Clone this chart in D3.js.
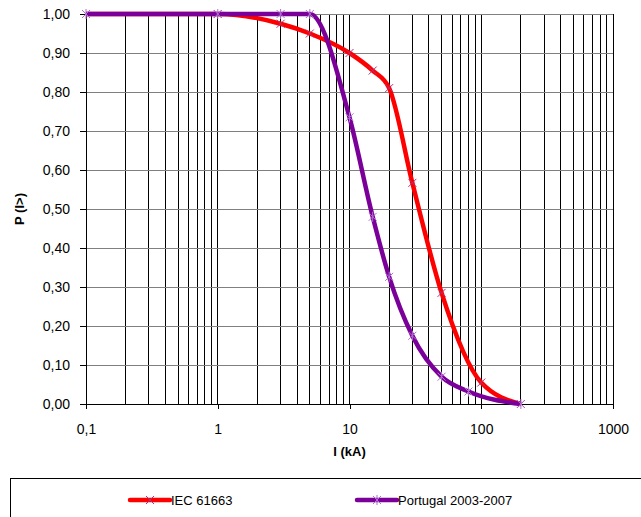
<!DOCTYPE html>
<html>
<head>
<meta charset="utf-8">
<script src="https://cdn.jsdelivr.net/npm/d3@7"></script>
<style>
    body { margin: 0; background: #fff; }
    svg { font-family: 'Liberation Sans', Arial, sans-serif; }
</style>
</head>
<body>
<div id="chart"></div>
<script>
// current (kA) and probability values
let iecCurrent = [0.1, 1, 3, 5, 10, 15, 20, 30, 50, 100, 200];
let iecProb = [1.0, 1.0, 0.975, 0.95, 0.90, 0.855, 0.81, 0.567, 0.285, 0.055, 0.0];

let ptCurrent = [0.1, 1, 3, 5, 10, 15, 20, 30, 50, 80, 200];
let ptProb = [1.0, 1.0, 1.0, 1.0, 0.735, 0.48, 0.326, 0.175, 0.07, 0.032, 0.0];

let xTickValues = [0.1, 1, 10, 100, 1000];
let xTickLabels = ['0,1', '1', '10', '100', '1000'];
let yTickValues = d3.range(0, 11).map(d => d / 10);

let seriesNames = ['IEC 61663', 'Portugal 2003-2007'];

let width = 641,
    height = 517;
let margin = {left: 86, right: 28, top: 14, bottom: 113};

let svg = d3.select('#chart')
    .append('svg')
    .attr('width', width)
    .attr('height', height);

let x = d3.scaleLog()
    .domain([0.1, 1000])
    .range([margin.left, width - margin.right]);

let y = d3.scaleLinear()
    .domain([0, 1])
    .range([height - margin.bottom, margin.top]);

// vertical grid: every minor log tick
let minorTicks = [];
[0.1, 1, 10, 100].forEach(function(dec) {
    for (let k = 1; k <= 9; k++) {
        minorTicks.push(dec * k);
    }
});
minorTicks.push(1000);

svg.append('g')
    .selectAll('line')
    .data(minorTicks)
    .enter()
    .append('line')
    .attr('x1', d => x(d))
    .attr('x2', d => x(d))
    .attr('y1', y(1))
    .attr('y2', y(0))
    .attr('stroke', '#000')
    .attr('stroke-width', 1)
    .attr('shape-rendering', 'crispEdges');

// horizontal grid
svg.append('g')
    .selectAll('line')
    .data(yTickValues)
    .enter()
    .append('line')
    .attr('x1', x(0.1))
    .attr('x2', x(1000))
    .attr('y1', d => y(d))
    .attr('y2', d => y(d))
    .attr('stroke', '#808080')
    .attr('stroke-width', 1)
    .attr('shape-rendering', 'crispEdges');

// axes
let yAxis = d3.axisLeft(y)
    .tickValues(yTickValues)
    .tickSize(6)
    .tickPadding(10)
    .tickFormat(d => d3.format('.2f')(d).replace('.', ','));

let xAxis = d3.axisBottom(x)
    .tickValues(xTickValues)
    .tickSize(5)
    .tickPadding(15)
    .tickFormat((d, i) => xTickLabels[i]);

let gy = svg.append('g')
    .attr('transform', 'translate(' + margin.left + ',0)')
    .call(yAxis);

let gx = svg.append('g')
    .attr('transform', 'translate(0,' + y(0) + ')')
    .call(xAxis);

[gx, gy].forEach(function(g) {
    g.select('.domain').attr('stroke', '#000').attr('shape-rendering', 'crispEdges');
    g.selectAll('.tick line').attr('stroke', '#000').attr('shape-rendering', 'crispEdges');
    g.selectAll('.tick text')
        .attr('fill', '#000')
        .style('font-size', '14px');
});

// axis titles
svg.append('text')
    .attr('x', x(10))
    .attr('y', 456)
    .attr('text-anchor', 'middle')
    .style('font-size', '13px')
    .style('font-weight', 'bold')
    .text('I (kA)');

svg.append('text')
    .attr('transform', 'translate(24,' + y(0.5) + ') rotate(-90)')
    .attr('text-anchor', 'middle')
    .style('font-size', '13px')
    .style('font-weight', 'bold')
    .text('P (I>)');

// series
let line = d3.line()
    .x(d => x(d[0]))
    .y(d => y(d[1]))
    .curve(d3.curveMonotoneX);

let iecData = d3.zip(iecCurrent, iecProb);
let ptData = d3.zip(ptCurrent, ptProb);

function drawSeries(data, color, markerColor, star) {
    svg.append('path')
        .datum(data)
        .attr('d', line)
        .attr('fill', 'none')
        .attr('stroke', color)
        .attr('stroke-width', 4.5)
        .attr('stroke-linejoin', 'round');

    let m = svg.append('g')
        .selectAll('g')
        .data(data)
        .enter()
        .append('g')
        .attr('transform', d => 'translate(' + x(d[0]) + ',' + y(d[1]) + ')');
    m.append('path')
        .attr('d', star ? 'M-4,-4L4,4M-4,4L4,-4M0,-5L0,5' : 'M-4,-4L4,4M-4,4L4,-4')
        .attr('stroke', markerColor)
        .attr('stroke-width', 1);
}

drawSeries(iecData, '#ff0000', '#b0307a', false);
drawSeries(ptData, '#7a0099', '#b070d0', true);

// legend
svg.append('rect')
    .attr('x', 10.5)
    .attr('y', 478.5)
    .attr('width', 640)
    .attr('height', 45)
    .attr('fill', '#fff')
    .attr('stroke', '#000');

let legendItems = [
    {name: seriesNames[0], color: '#ff0000', marker: '#b0307a', star: false, x: 130},
    {name: seriesNames[1], color: '#7a0099', marker: '#b070d0', star: true, x: 357}
];

legendItems.forEach(function(item) {
    svg.append('line')
        .attr('x1', item.x)
        .attr('x2', item.x + 40)
        .attr('y1', 500)
        .attr('y2', 500)
        .attr('stroke', item.color)
        .attr('stroke-width', 4.5)
        .attr('stroke-linecap', 'round');
    svg.append('path')
        .attr('transform', 'translate(' + (item.x + 20) + ',500)')
        .attr('d', item.star ? 'M-4,-4L4,4M-4,4L4,-4M0,-5L0,5' : 'M-4,-4L4,4M-4,4L4,-4')
        .attr('stroke', item.marker)
        .attr('stroke-width', 1);
    svg.append('text')
        .attr('x', item.x + 41)
        .attr('y', 505)
        .style('font-size', '13px')
        .text(item.name);
});
</script>
</body>
</html>
